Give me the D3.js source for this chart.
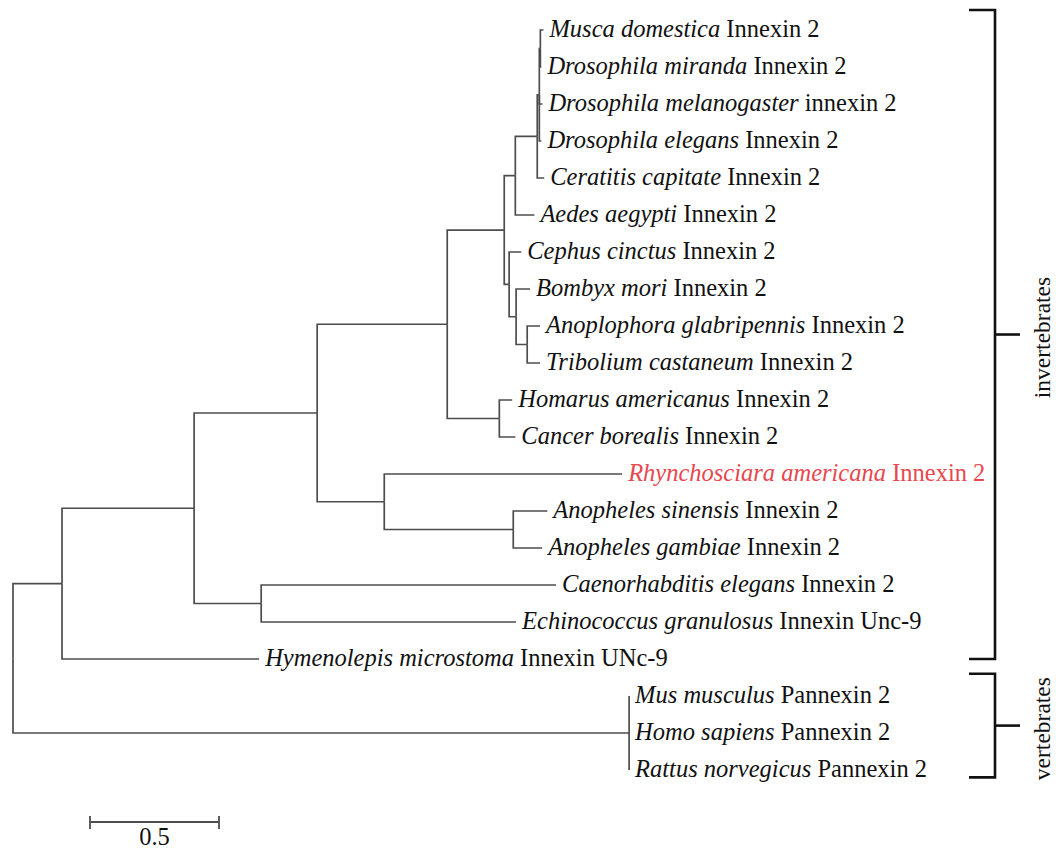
<!DOCTYPE html>
<html>
<head>
<meta charset="utf-8">
<script src="https://cdn.jsdelivr.net/npm/d3@7"></script>
<style>
  body { margin: 0; background: #fff; }
</style>
</head>
<body>
<script>
var w = 1056;
var h = 850;

// tree as rows of [node, parent, branch length]; leaves are named by species
var treeRows = [
  ["root", "", 0],
  ["inv", "root", 0.19],
  ["vert", "root", 2.388],
  ["n1", "inv", 0.512],
  ["Hymenolepis microstoma", "inv", 0.764],
  ["n2", "n1", 0.477],
  ["n3", "n1", 0.26],
  ["n4", "n2", 0.504],
  ["n5", "n2", 0.26],
  ["n6", "n4", 0.221],
  ["n7", "n4", 0.202],
  ["n8", "n6", 0.043],
  ["n9", "n6", 0.019],
  ["n10", "n8", 0.085],
  ["Aedes aegypti", "n8", 0.074],
  ["n11", "n10", 0.008],
  ["Ceratitis capitate", "n10", 0.027],
  ["n12", "n11", 0.004],
  ["Drosophila melanogaster", "n11", 0.012],
  ["Drosophila elegans", "n11", 0.008],
  ["Musca domestica", "n12", 0.012],
  ["Drosophila miranda", "n12", 0.004],
  ["Cephus cinctus", "n9", 0.047],
  ["n13", "n9", 0.027],
  ["Bombyx mori", "n13", 0.054],
  ["n14", "n13", 0.043],
  ["Anoplophora glabripennis", "n14", 0.05],
  ["Tribolium castaneum", "n14", 0.05],
  ["Homarus americanus", "n7", 0.05],
  ["Cancer borealis", "n7", 0.062],
  ["Rhynchosciara americana", "n5", 0.922],
  ["n15", "n5", 0.5],
  ["Anopheles sinensis", "n15", 0.132],
  ["Anopheles gambiae", "n15", 0.112],
  ["Caenorhabditis elegans", "n3", 1.143],
  ["Echinococcus granulosus", "n3", 0.988],
  ["Mus musculus", "vert", 0],
  ["Homo sapiens", "vert", 0],
  ["Rattus norvegicus", "vert", 0]
];

// gene name written after each species (leaf order, top to bottom)
var genes = [
  "Innexin 2", "Innexin 2", "innexin 2", "Innexin 2", "Innexin 2", "Innexin 2",
  "Innexin 2", "Innexin 2", "Innexin 2", "Innexin 2", "Innexin 2", "Innexin 2",
  "Innexin 2", "Innexin 2", "Innexin 2", "Innexin 2", "Innexin Unc-9",
  "Innexin UNc-9", "Pannexin 2", "Pannexin 2", "Pannexin 2"
];

var highlighted = ["Rhynchosciara americana"];

// clade brackets, extents in leaf rows
var cladeNames = ["invertebrates", "vertebrates"];
var cladeTop = [-0.54, 17.4];
var cladeBottom = [17.0, 20.2];

var scaleBarLength = 0.5;

var svg = d3.select("body").append("svg").attr("width", w).attr("height", h)
  .attr("font-family", "'Liberation Serif', 'Times New Roman', 'DejaVu Serif', serif");
svg.append("rect").attr("width", w).attr("height", h).attr("fill", "#fff");

var root = d3.stratify()
  .id(function(d) { return d[0]; })
  .parentId(function(d) { return d[1] === "" ? null : d[1]; })(treeRows);

var leaves = root.leaves();

// distance from root in substitutions per site, row index for leaves
root.eachBefore(function(n) {
  n.depthLen = n.parent ? n.parent.depthLen + n.data[2] : 0;
});
leaves.forEach(function(n, i) { n.row = i; });
root.eachAfter(function(n) {
  if (n.children) n.row = (n.children[0].row + n.children[n.children.length - 1].row) / 2;
});

var xS = d3.scaleLinear().domain([0, 1]).range([13, 271]);
var yS = d3.scaleLinear().domain([0, leaves.length - 1]).range([30, 770]);

var lineCol = "#4d4d4d";
var fs = "24.5px";

svg.append("g").selectAll("path").data(root.links()).enter().append("path")
  .attr("d", function(l) {
    return "M" + xS(l.source.depthLen) + "," + yS(l.source.row) +
      "V" + yS(l.target.row) + "H" + xS(l.target.depthLen);
  })
  .attr("fill", "none")
  .attr("stroke", lineCol)
  .attr("stroke-width", 1.7);

var labels = svg.append("g").selectAll("text").data(leaves).enter().append("text")
  .attr("x", function(d) { return xS(d.depthLen) + 6; })
  .attr("y", function(d) { return yS(d.row); })
  .attr("dy", "0.3em")
  .attr("font-size", fs)
  .attr("fill", function(d) { return highlighted.indexOf(d.id) >= 0 ? "#e8474f" : "#111"; });
labels.append("tspan").attr("font-style", "italic").text(function(d) { return d.id; });
labels.append("tspan").text(function(d, i) { return " " + genes[i]; });

// clade brackets
var bx0 = 969, bx1 = 995, bx2 = 1020;
var br = svg.append("g").selectAll("g").data(cladeNames).enter().append("g");
br.append("path")
  .attr("d", function(d, i) {
    return "M" + bx0 + "," + yS(cladeTop[i]) + "H" + bx1 + "V" + yS(cladeBottom[i]) + "H" + bx0;
  })
  .attr("fill", "none").attr("stroke", "#111").attr("stroke-width", 2.6);
br.append("line")
  .attr("x1", bx1).attr("x2", bx2)
  .attr("y1", function(d, i) { return (yS(cladeTop[i]) + yS(cladeBottom[i])) / 2; })
  .attr("y2", function(d, i) { return (yS(cladeTop[i]) + yS(cladeBottom[i])) / 2; })
  .attr("stroke", "#111").attr("stroke-width", 2.6);
br.append("text")
  .attr("transform", function(d, i) {
    var cy = (yS(cladeTop[i]) + yS(cladeBottom[i])) / 2 + 3;
    return "translate(1050," + cy + ") rotate(-90)";
  })
  .attr("text-anchor", "middle")
  .attr("font-size", "23.5px")
  .attr("fill", "#111")
  .text(function(d) { return d; });

// scale bar
var sbx = 90, sby = 822;
var sb = svg.append("g");
sb.append("line").attr("x1", sbx).attr("x2", sbx + xS(scaleBarLength) - xS(0))
  .attr("y1", sby).attr("y2", sby).attr("stroke", lineCol).attr("stroke-width", 1.8);
[0, scaleBarLength].forEach(function(v) {
  sb.append("line").attr("x1", sbx + xS(v) - xS(0)).attr("x2", sbx + xS(v) - xS(0))
    .attr("y1", sby - 6).attr("y2", sby + 7).attr("stroke", lineCol).attr("stroke-width", 1.8);
});
sb.append("text").attr("x", sbx + (xS(scaleBarLength) - xS(0)) / 2).attr("y", 845)
  .attr("text-anchor", "middle").attr("font-size", fs).attr("fill", "#111")
  .text(scaleBarLength);
</script>
</body>
</html>
